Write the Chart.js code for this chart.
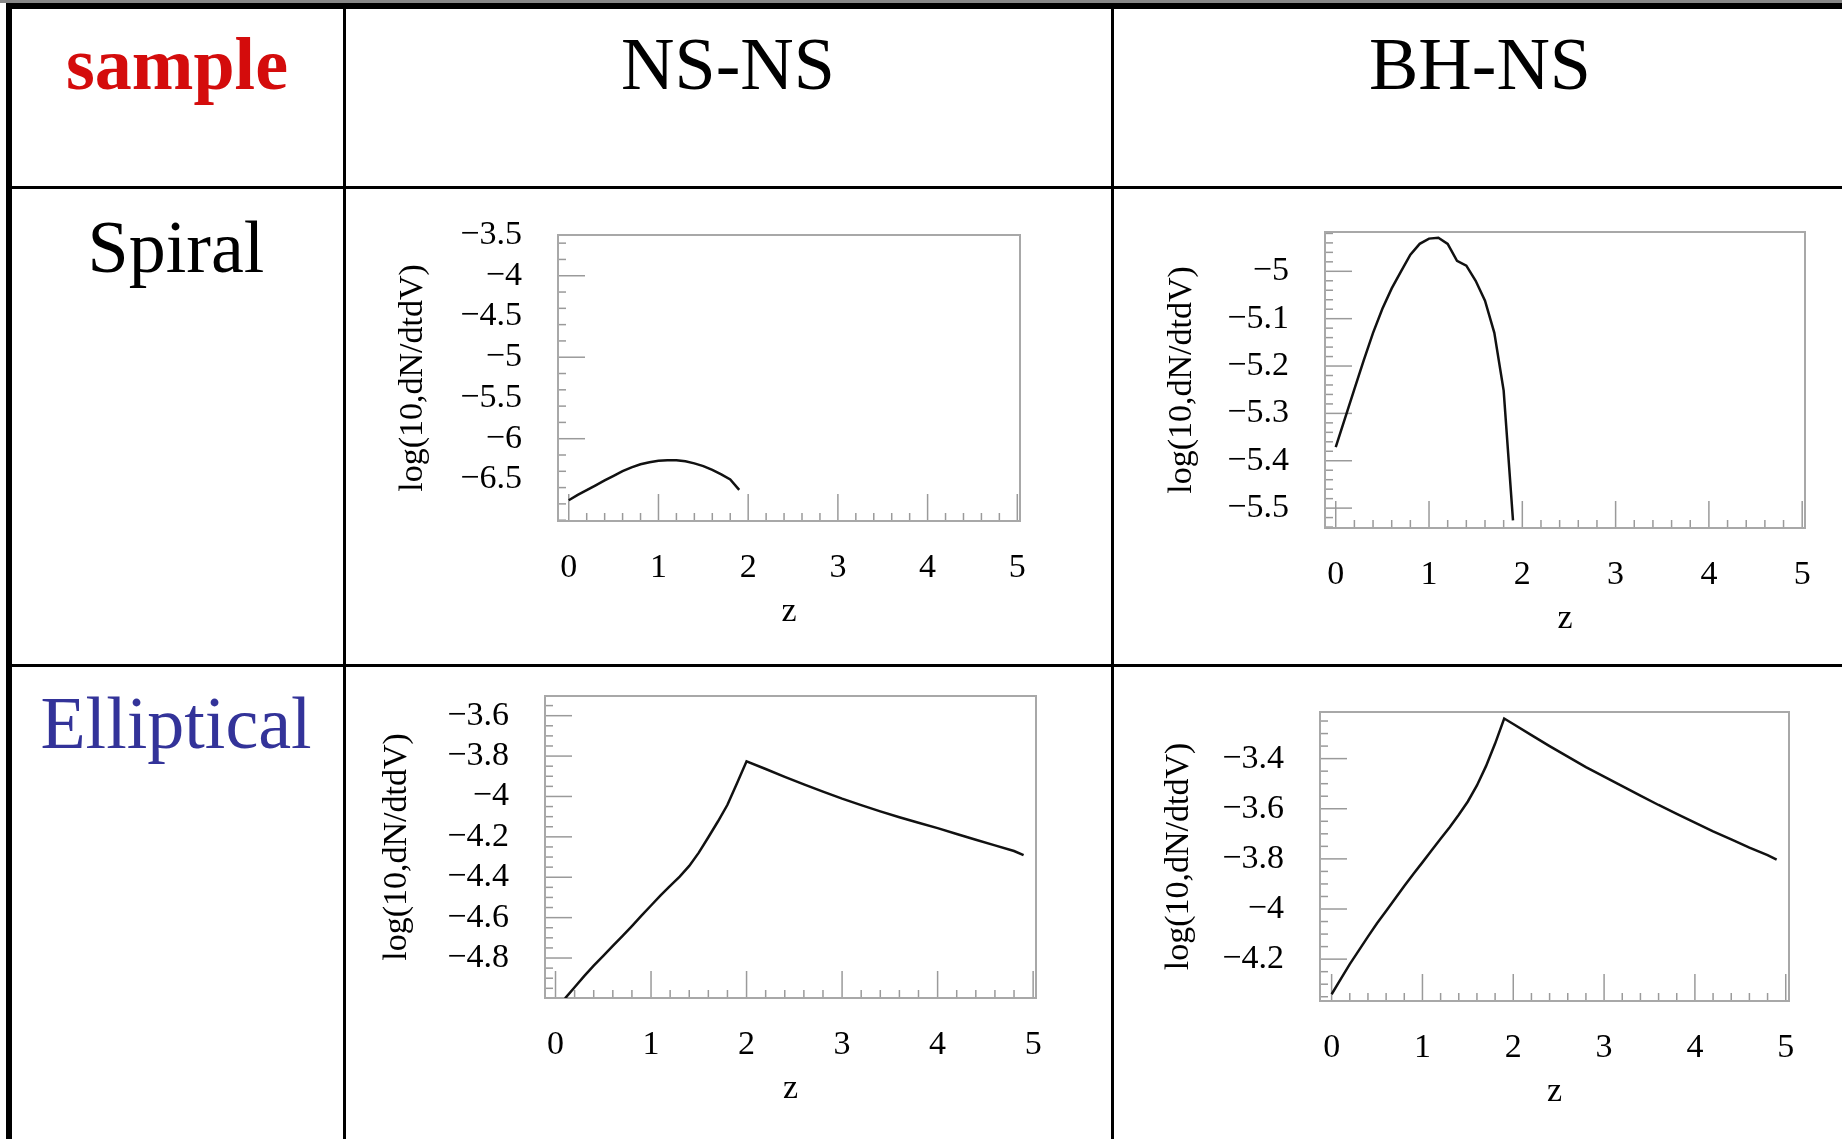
<!DOCTYPE html>
<html>
<head>
<meta charset="utf-8">
<script src="https://cdn.jsdelivr.net/npm/chart.js@4.4.1/dist/chart.umd.min.js"></script>
<style>
  body { margin: 0; background: #fff; width: 1842px; height: 1139px; overflow: hidden; position: relative; font-family: "Liberation Serif", serif; }
  .rule { position: absolute; background: #000; }
  .cell { position: absolute; font-size: 74px; line-height: 74px; white-space: nowrap; transform: translateX(-50%); }
  canvas { position: absolute; }
</style>
</head>
<body>
<!-- table lines -->
<div class="rule" style="left:0;top:0;width:1842px;height:3px;background:#888"></div>
<div class="rule" style="left:6px;top:3px;width:1836px;height:6px"></div>
<div class="rule" style="left:6px;top:3px;width:6px;height:1136px"></div>
<div class="rule" style="left:12px;top:186px;width:1830px;height:3px"></div>
<div class="rule" style="left:12px;top:664px;width:1830px;height:3px"></div>
<div class="rule" style="left:343px;top:9px;width:3px;height:1130px"></div>
<div class="rule" style="left:1111px;top:9px;width:3px;height:1130px"></div>

<div class="cell" style="left:177px;top:27px;color:#d40c0c;font-weight:bold">sample</div>
<div class="cell" style="left:728px;top:27px">NS-NS</div>
<div class="cell" style="left:1480px;top:27px">BH-NS</div>
<div class="cell" style="left:176px;top:210px">Spiral</div>
<div class="cell" style="left:176px;top:686px;color:#333399">Elliptical</div>

<canvas id="nsSpiral" width="674" height="457" style="left:383px;top:175px"></canvas>
<canvas id="bhSpiral" width="692" height="467" style="left:1150px;top:172px"></canvas>
<canvas id="nsEll" width="703" height="473" style="left:370px;top:636px"></canvas>
<canvas id="bhEll" width="681" height="460" style="left:1145px;top:652px"></canvas>

<script>
// redshift grids
const zSpiral = [0, 0.1, 0.2, 0.3, 0.4, 0.5, 0.6, 0.7, 0.8, 0.9, 1.0, 1.1, 1.2, 1.3, 1.4, 1.5, 1.6, 1.7, 1.8, 1.9];
const zNsEll = [0.1, 0.2, 0.3, 0.4, 0.5, 0.6, 0.7, 0.8, 0.9, 1.0, 1.1, 1.2, 1.3, 1.4, 1.5, 1.6, 1.7, 1.8, 1.9, 2.0,
  2.2, 2.4, 2.6, 2.8, 3.0, 3.2, 3.4, 3.6, 3.8, 4.0, 4.2, 4.4, 4.6, 4.8, 4.9];
const zBhEll = [0, 0.1, 0.2, 0.3, 0.4, 0.5, 0.6, 0.7, 0.8, 0.9, 1.0, 1.1, 1.2, 1.3, 1.4, 1.5, 1.6, 1.7, 1.8, 1.9, 2.0,
  2.2, 2.4, 2.6, 2.8, 3.0, 3.2, 3.4, 3.6, 3.8, 4.0, 4.2, 4.4, 4.6, 4.8, 4.9];

// log10(dN/dtdV)
const nsSpiral = [-6.755, -6.69, -6.632, -6.572, -6.512, -6.455, -6.398, -6.352, -6.314, -6.288,
  -6.272, -6.263, -6.265, -6.278, -6.303, -6.336, -6.382, -6.437, -6.5, -6.628];
const bhSpiral = [-5.371, -5.31, -5.249, -5.188, -5.13, -5.079, -5.036, -5.0, -4.965, -4.942,
  -4.931, -4.929, -4.942, -4.978, -4.988, -5.02, -5.062, -5.13, -5.252, -5.526];
const nsElliptical = [-5.0, -4.945, -4.89, -4.838, -4.79, -4.74, -4.692, -4.642, -4.59, -4.54,
  -4.49, -4.443, -4.397, -4.344, -4.278, -4.202, -4.124, -4.041, -3.935, -3.826,
  -3.864, -3.903, -3.94, -3.976, -4.011, -4.043, -4.074, -4.103, -4.13, -4.157, -4.186, -4.214, -4.242, -4.27, -4.29];
const bhElliptical = [-4.34, -4.28, -4.22, -4.165, -4.11, -4.057, -4.008, -3.958, -3.908, -3.86,
  -3.814, -3.767, -3.72, -3.674, -3.624, -3.571, -3.507, -3.43, -3.34, -3.24,
  -3.262, -3.306, -3.35, -3.392, -3.434, -3.472, -3.51, -3.548, -3.585, -3.62, -3.655, -3.69, -3.722, -3.755, -3.785, -3.803];

// tick labels
const zTicks = [0, 1, 2, 3, 4, 5];
const nsSpiralTicks = [-3.5, -4, -4.5, -5, -5.5, -6, -6.5];
const bhSpiralTicks = [-5, -5.1, -5.2, -5.3, -5.4, -5.5];
const nsEllTicks = [-3.6, -3.8, -4, -4.2, -4.4, -4.6, -4.8];
const bhEllTicks = [-3.4, -3.6, -3.8, -4, -4.2];

Chart.defaults.font.family = '"Liberation Serif", serif';
Chart.defaults.font.size = 34;
Chart.defaults.color = "#000";

// ROOT-like frame with inward ticks
const frameTicks = {
  id: "frameTicks",
  beforeDatasetsDraw(chart, args, opts) {
    const { ctx, chartArea: a, scales: { x, y } } = chart;
    ctx.save();
    ctx.strokeStyle = "#9a9a9a";
    ctx.lineWidth = 1.5;
    for (let i = Math.ceil(x.min / 0.2 - 1e-6); i * 0.2 <= x.max + 1e-9; i++) {
      const px = x.getPixelForValue(i * 0.2);
      const len = i % 5 === 0 ? 27 : 8;
      ctx.beginPath();
      ctx.moveTo(px, a.bottom);
      ctx.lineTo(px, a.bottom - len);
      ctx.stroke();
    }
    const step = opts.minor;
    for (let i = Math.ceil(y.min / step - 1e-6); i * step <= y.max + 1e-9; i++) {
      const v = i * step;
      const py = y.getPixelForValue(v);
      const major = opts.major.some((m) => Math.abs(m - v) < 1e-6);
      ctx.beginPath();
      ctx.moveTo(a.left, py);
      ctx.lineTo(a.left + (major ? 27 : 8), py);
      ctx.stroke();
    }
    ctx.strokeStyle = "#a8a8a8";
    ctx.lineWidth = 2;
    ctx.strokeRect(a.left, a.top, a.right - a.left, a.bottom - a.top);
    ctx.restore();
  },
};

const fmt = (v) => (v < 0 ? "\u2212" : "") + Number(Math.abs(v).toFixed(3));

function drawPanel(id, zs, vals, yTicks, yMin, yMax, yMinor, xMin, xMax, titleGap) {
  new Chart(document.getElementById(id), {
    type: "line",
    data: {
      datasets: [
        {
          data: zs.map((z, i) => ({ x: z, y: vals[i] })),
          borderColor: "#111",
          borderWidth: 2.5,
          pointRadius: 0,
          tension: 0,
        },
      ],
    },
    options: {
      responsive: false,
      animation: false,
      layout: { padding: { top: 60, right: 37, bottom: 0, left: 0 } },
      plugins: {
        legend: { display: false },
        tooltip: { enabled: false },
        frameTicks: { minor: yMinor, major: yTicks },
      },
      scales: {
        x: {
          type: "linear",
          min: xMin,
          max: xMax,
          grid: { display: false, drawTicks: false },
          border: { display: false },
          afterBuildTicks: (s) => { s.ticks = zTicks.map((v) => ({ value: v })); },
          afterFit: (s) => { s.height = 111; },
          ticks: { autoSkip: false, maxRotation: 0, padding: 26.6, callback: fmt },
          title: { display: true, text: "z", padding: { top: 0, bottom: 0 } },
        },
        y: {
          min: yMin,
          max: yMax,
          grid: { display: false, drawTicks: false },
          border: { display: false },
          afterBuildTicks: (s) => { s.ticks = yTicks.map((v) => ({ value: v })); },
          afterFit: (s) => { s.width = 175; },
          ticks: { autoSkip: false, padding: 36, callback: fmt },
          title: { display: true, text: "log(10,dN/dtdV)", padding: { top: 151.2 - titleGap, bottom: 0 } },
        },
      },
    },
    plugins: [frameTicks],
  });
}

drawPanel("nsSpiral", zSpiral, nsSpiral, nsSpiralTicks, -7.01, -3.5, 0.2, -0.12, 5.03, 142);
drawPanel("bhSpiral", zSpiral, bhSpiral, bhSpiralTicks, -5.542, -4.917, 0.02, -0.115, 5.03, 140);
drawPanel("nsEll", zNsEll, nsElliptical, nsEllTicks, -4.998, -3.5025, 0.05, -0.11, 5.03, 145);
drawPanel("bhEll", zBhEll, bhElliptical, bhEllTicks, -4.367, -3.214, 0.05, -0.128, 5.036, 138);
</script>
</body>
</html>
